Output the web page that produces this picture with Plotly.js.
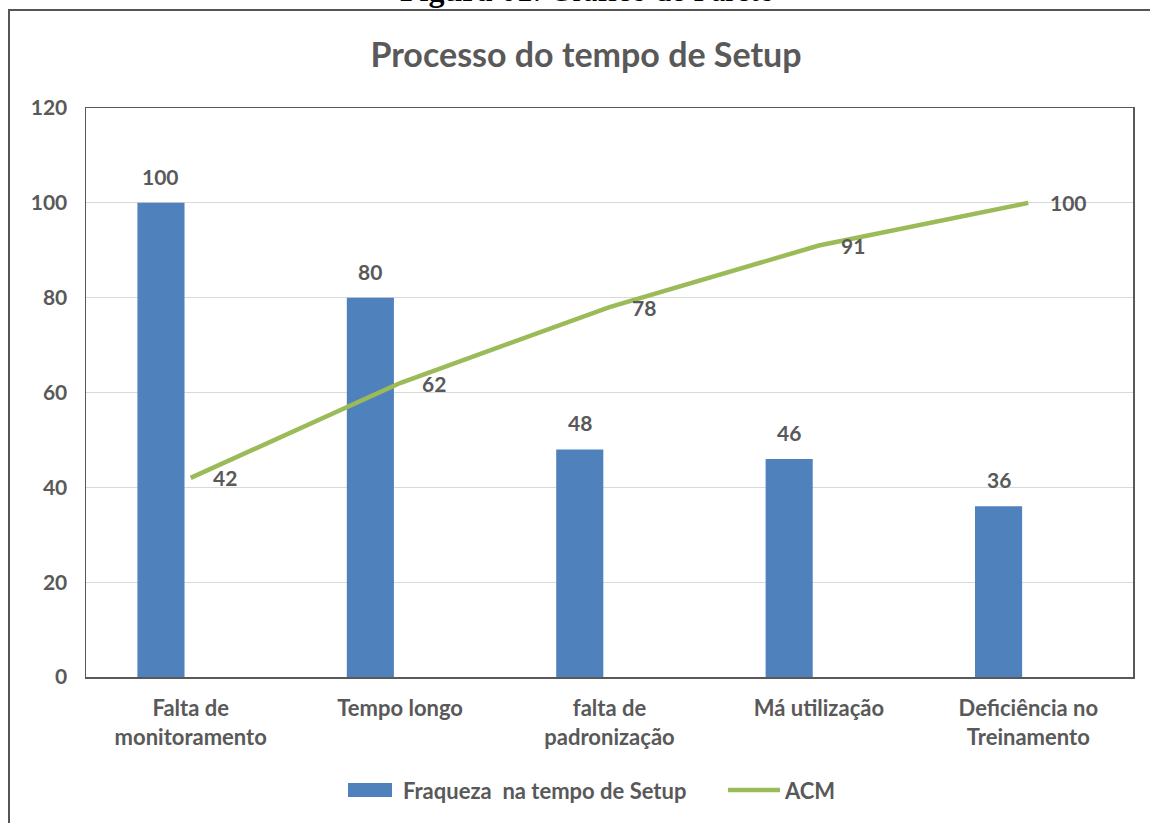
<!DOCTYPE html>
<html>
<head>
<meta charset="utf-8">
<script src="https://cdn.plot.ly/plotly-3.0.1.min.js"></script>
<style>html,body{margin:0;padding:0;background:#fff;}#chart{width:1150px;height:823px;}</style>
</head>
<body>
<div id="chart"></div>
<script>
const categories = ["Falta de<br>monitoramento", "Tempo longo", "falta de<br>padronização", "Má utilização", "Deficiência no<br>Treinamento"];
const frequencia = [100, 80, 48, 46, 36];
const acm = [42, 62, 78, 91, 100];
const yTicks = [0, 20, 40, 60, 80, 100, 120];
const seriesNames = ["Fraqueza  na tempo de Setup", "ACM"];

const FONT = "Lato, 'Open Sans', sans-serif";
const idx = categories.map((c, i) => i);

// layout / style constants (not data)
const BAR_W = 0.225;
const BAR_SHIFT = -0.142;          // bar centre offset from category centre (category units)
const W = 1150, H = 823, ML = 86, MR = 17, MT = 108, MB = 146;
const PW = W - ML - MR, PH = H - MT - MB;
const px2x = p => (p - ML) / PW;
const py2y = p => 1 - (p - MT) / PH;
const LABEL_FONT = {family: FONT, size: 21, color: '#595959', weight: 'bold'};

const traces = [
  {
    type: 'bar',
    x: idx,
    y: frequencia,
    name: seriesNames[0],
    marker: {color: '#4F81BD'},
    width: BAR_W,
    offset: BAR_SHIFT - BAR_W / 2,
    showlegend: false,
    hoverinfo: 'x+y'
  },
  {
    type: 'scatter',
    mode: 'lines',
    x: idx,
    y: acm,
    name: seriesNames[1],
    line: {color: '#9BBB59', width: 4.5},
    cliponaxis: false,
    showlegend: false
  }
];

const barLabels = frequencia.map((v, i) => ({
  xref: 'x', yref: 'y',
  x: i + BAR_SHIFT, y: v,
  xanchor: 'center', yanchor: 'bottom',
  yshift: 12,
  text: String(v),
  showarrow: false,
  font: LABEL_FONT
}));

const lineLabels = acm.map((v, i) => ({
  xref: 'x', yref: 'y',
  x: i, y: v,
  xanchor: 'left', yanchor: 'middle',
  xshift: 20, yshift: 0,
  text: String(v),
  showarrow: false,
  font: LABEL_FONT
}));

const legendShapes = [
  {type: 'rect', xref: 'paper', yref: 'paper',
   x0: px2x(348), x1: px2x(392), y0: py2y(797), y1: py2y(783),
   fillcolor: '#4F81BD', line: {width: 0}},
  {type: 'line', xref: 'paper', yref: 'paper',
   x0: px2x(728), x1: px2x(780), y0: py2y(790), y1: py2y(790),
   line: {color: '#9BBB59', width: 4.5}}
];
const LEG_FONT = {family: FONT, size: 22, color: '#595959', weight: 'bold'};
const legendTexts = [
  {xref: 'paper', yref: 'paper', x: px2x(401), y: py2y(790), xanchor: 'left', yanchor: 'middle',
   text: seriesNames[0], showarrow: false, font: LEG_FONT},
  {xref: 'paper', yref: 'paper', x: px2x(782), y: py2y(790), xanchor: 'left', yanchor: 'middle',
   text: seriesNames[1], showarrow: false, font: LEG_FONT}
];

const layout = {
  width: W,
  height: H,
  margin: {l: ML, r: MR, t: MT, b: MB},
  paper_bgcolor: '#ffffff',
  plot_bgcolor: '#ffffff',
  font: {family: FONT, color: '#595959'},
  title: {
    text: 'Processo do tempo de Setup',
    font: {family: FONT, size: 34, color: '#595959', weight: 'bold'},
    x: 586 / W, xanchor: 'center',
    y: 1 - 55 / H, yanchor: 'middle'
  },
  showlegend: false,
  xaxis: {
    type: 'linear',
    range: [-0.5, 4.5],
    tickvals: idx,
    ticktext: categories,
    tickfont: {family: FONT, size: 22, color: '#595959', weight: 'bold'},
    showgrid: false,
    zeroline: false,
    showline: true,
    linecolor: '#595959',
    linewidth: 1.5,
    mirror: true,
    ticks: 'outside',
    ticklen: 11,
    tickcolor: 'rgba(0,0,0,0)',
    fixedrange: true
  },
  yaxis: {
    range: [0, 120],
    tickvals: yTicks,
    ticktext: yTicks.map(String),
    tickfont: {family: FONT, size: 21, color: '#595959', weight: 'bold'},
    showgrid: true,
    gridcolor: '#d9d9d9',
    gridwidth: 1,
    zeroline: false,
    showline: true,
    linecolor: '#595959',
    linewidth: 1.5,
    mirror: true,
    ticks: 'outside',
    ticklen: 13,
    tickcolor: 'rgba(0,0,0,0)',
    fixedrange: true
  },
  shapes: [
    {
      type: 'rect', xref: 'paper', yref: 'paper',
      x0: px2x(9), x1: px2x(1170),
      y0: py2y(900), y1: py2y(10),
      line: {color: '#555555', width: 2},
      fillcolor: 'rgba(0,0,0,0)',
      layer: 'below'
    }
  ].concat(legendShapes),
  annotations: [
    {
      xref: 'paper', yref: 'paper',
      x: px2x(587), xanchor: 'center',
      y: py2y(10), yanchor: 'bottom',
      text: '<b>Figura 01</b>: Gráfico de Pareto',
      showarrow: false,
      font: {family: "'Liberation Serif', serif", size: 32, color: '#000000'}
    }
  ].concat(barLabels, lineLabels, legendTexts)
};

Plotly.newPlot('chart', traces, layout, {displayModeBar: false, staticPlot: true});
</script>
</body>
</html>
